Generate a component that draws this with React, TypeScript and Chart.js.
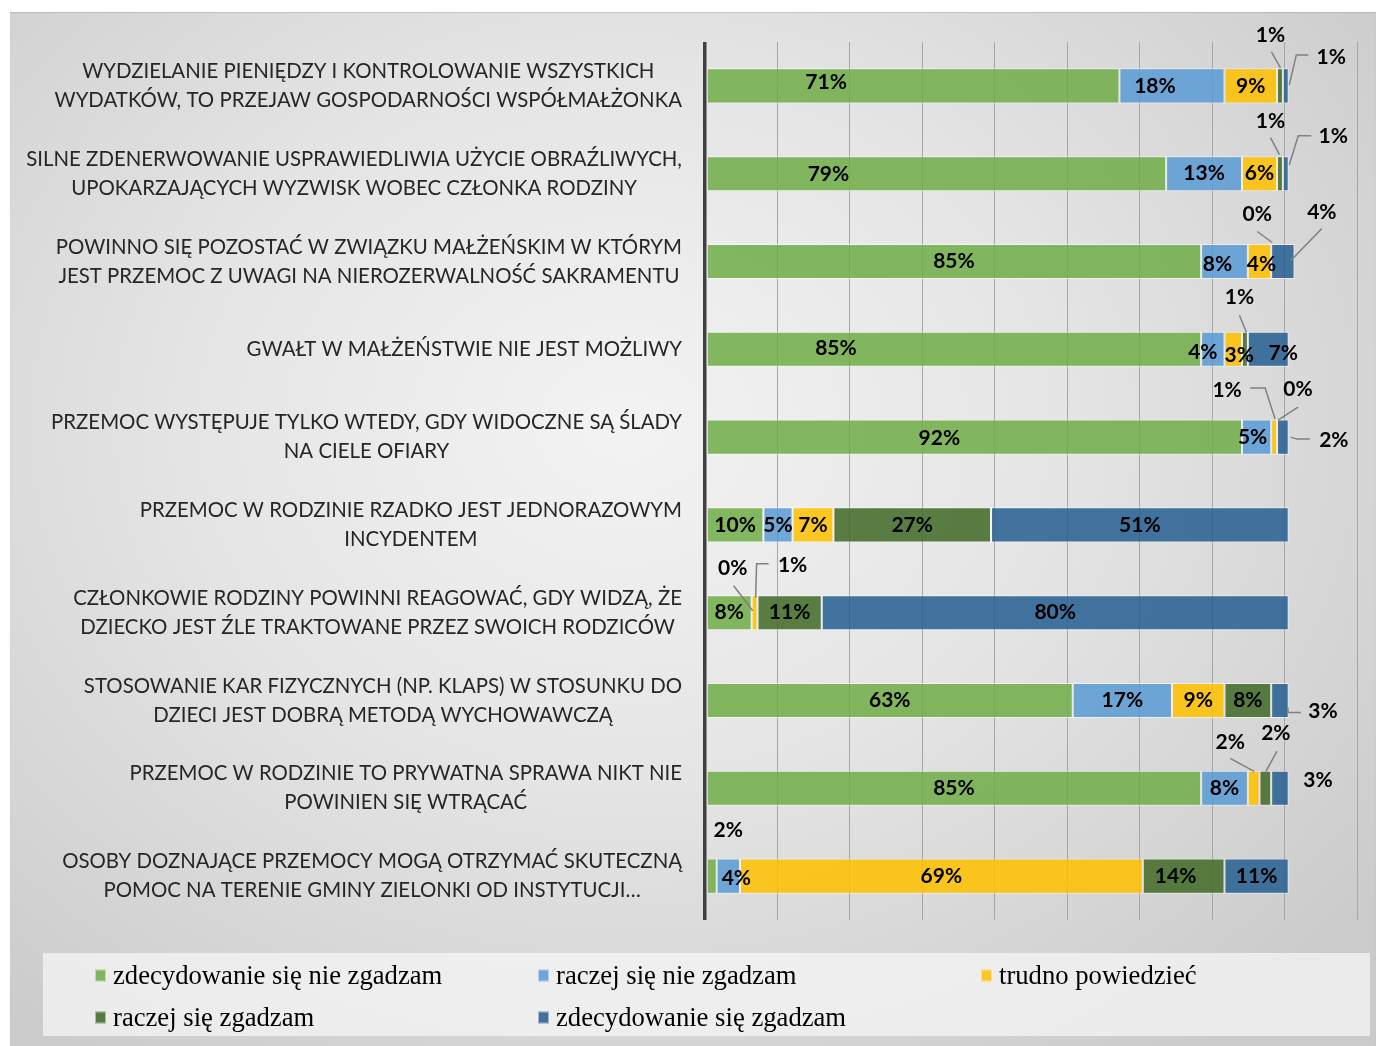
import React, { useEffect, useRef } from 'react';
import { Chart, registerables } from 'chart.js';

Chart.register(...registerables);

const categories: string[][] = [
  ['WYDZIELANIE PIENIĘDZY I KONTROLOWANIE WSZYSTKICH', 'WYDATKÓW, TO PRZEJAW GOSPODARNOŚCI WSPÓŁMAŁŻONKA'],
  ['SILNE ZDENERWOWANIE USPRAWIEDLIWIA UŻYCIE OBRAŹLIWYCH,', 'UPOKARZAJĄCYCH WYZWISK WOBEC CZŁONKA RODZINY'],
  ['POWINNO SIĘ POZOSTAĆ W ZWIĄZKU MAŁŻEŃSKIM W KTÓRYM', 'JEST PRZEMOC Z UWAGI NA NIEROZERWALNOŚĆ SAKRAMENTU'],
  ['GWAŁT W MAŁŻEŃSTWIE NIE JEST MOŻLIWY'],
  ['PRZEMOC WYSTĘPUJE TYLKO WTEDY, GDY WIDOCZNE SĄ ŚLADY', 'NA CIELE OFIARY'],
  ['PRZEMOC W RODZINIE RZADKO JEST JEDNORAZOWYM', 'INCYDENTEM'],
  ['CZŁONKOWIE RODZINY POWINNI REAGOWAĆ, GDY WIDZĄ, ŻE', 'DZIECKO JEST ŹLE TRAKTOWANE PRZEZ SWOICH RODZICÓW'],
  ['STOSOWANIE KAR FIZYCZNYCH (NP. KLAPS) W STOSUNKU DO', 'DZIECI JEST DOBRĄ METODĄ WYCHOWAWCZĄ'],
  ['PRZEMOC W RODZINIE TO PRYWATNA SPRAWA NIKT NIE', 'POWINIEN SIĘ WTRĄCAĆ'],
  ['OSOBY DOZNAJĄCE PRZEMOCY MOGĄ OTRZYMAĆ SKUTECZNĄ', 'POMOC NA TERENIE GMINY ZIELONKI OD INSTYTUCJI…'],
];

const seriesNames = [
  'zdecydowanie się nie zgadzam',
  'raczej się nie zgadzam',
  'trudno powiedzieć',
  'raczej się zgadzam',
  'zdecydowanie się zgadzam',
];

const stronglyDisagree = [71, 79, 85, 85, 92, 10, 8, 63, 85, 2];
const ratherDisagree = [18, 13, 8, 4, 5, 5, 0, 17, 8, 4];
const hardToSay = [9, 6, 4, 3, 1, 7, 1, 9, 2, 69];
const ratherAgree = [1, 1, 0, 1, 0, 27, 11, 8, 2, 14];
const stronglyAgree = [1, 1, 4, 7, 2, 51, 80, 3, 3, 11];

const seriesColors = [
  'rgba(112,173,71,0.86)',
  'rgba(91,155,213,0.86)',
  'rgba(255,192,0,0.86)',
  'rgba(67,108,42,0.88)',
  'rgba(38,94,145,0.86)',
];
const legendColors = ['#7fb55e', '#6fa5d8', '#fbc52a', '#577a43', '#41709d'];

const X_MAX = 111.7;
const GRID_COUNT = 9;

// label placement tweaks: key "row-series" -> offset from segment centre, optional leader line
type Placement = { dx: number; dy: number; line?: number[][] };
const placements: Record<string, Placement> = {
  '0-0': { dx: -87, dy: -4 },
  '0-1': { dx: -17, dy: 0 },
  '0-3': { dx: -9.5, dy: -51, line: [[-8.5, -34], [0.5, -18]] },
  '0-4': { dx: 45.5, dy: -29, line: [[22.5, -31], [10.5, -31], [3.5, -1]] },
  '1-0': { dx: -108, dy: 1 },
  '1-3': { dx: -9.5, dy: -52, line: [[-9.5, -36], [-0.5, -19]] },
  '1-4': { dx: 47.5, dy: -37, line: [[25.5, -38], [12.5, -38], [3.5, -9]] },
  '2-1': { dx: -7, dy: 3 },
  '2-2': { dx: 2, dy: 3 },
  '2-3': { dx: -14, dy: -47, line: [[-14, -30], [1, -19]] },
  '2-4': { dx: 39, dy: -49, line: [[39, -33], [8, -1]] },
  '3-0': { dx: -118, dy: -1 },
  '3-1': { dx: -10, dy: 3 },
  '3-2': { dx: 6, dy: 6 },
  '3-3': { dx: -5.5, dy: -52, line: [[-5.5, -34], [1.5, -17]] },
  '3-4': { dx: 15, dy: 4 },
  '4-0': { dx: -35, dy: 1 },
  '4-1': { dx: -4, dy: 0 },
  '4-2': { dx: -47, dy: -47, line: [[-24, -49], [-9, -49], [1, -18]] },
  '4-3': { dx: 21, dy: -48, line: [[21, -30], [1, -17]] },
  '4-4': { dx: 51, dy: 3, line: [[27, 2], [14, 2], [8, 0]] },
  '6-1': { dx: -19, dy: -44, line: [[-18, -27], [1, -2]] },
  '6-2': { dx: 38, dy: -47, line: [[14, -49], [2, -49], [1, -15]] },
  '7-4': { dx: 43, dy: 11, line: [[21, 12], [8, 12], [8, 7]] },
  '8-2': { dx: -23.5, dy: -46, line: [[-23.5, -30], [0.5, -17]] },
  '8-3': { dx: 10.5, dy: -55, line: [[11.5, -37], [0.5, -17]] },
  '8-4': { dx: 38, dy: -8 },
  '9-0': { dx: 16.5, dy: -46 },
  '9-1': { dx: 8, dy: 2 },
  '9-3': { dx: -8, dy: 0 },
};

const CAT_FONT = '20.4px Lato';
const VAL_FONT = 'bold 21px Lato';

const labelPlugin = {
  id: 'customLabels',
  afterDatasetsDraw(chart: any) {
    const ctx = chart.ctx as CanvasRenderingContext2D;
    ctx.save();
    ctx.font = VAL_FONT;
    ctx.textAlign = 'center';
    ctx.textBaseline = 'middle';
    chart.data.datasets.forEach((ds: any, di: number) => {
      const meta = chart.getDatasetMeta(di);
      meta.data.forEach((bar: any, i: number) => {
        const p = bar.getProps(['x', 'y', 'base'], true);
        const cx = (p.x + p.base) / 2;
        const cy = p.y;
        const pl = placements[`${i}-${di}`] || { dx: 0, dy: 0 };
        if (pl.line) {
          ctx.beginPath();
          ctx.strokeStyle = '#808080';
          ctx.lineWidth = 1.5;
          pl.line.forEach((pt, k) => {
            if (k === 0) ctx.moveTo(cx + pt[0], cy + pt[1]);
            else ctx.lineTo(cx + pt[0], cy + pt[1]);
          });
          ctx.stroke();
        }
        ctx.fillStyle = '#000000';
        ctx.fillText(`${ds.data[i]}%`, cx + pl.dx, cy + pl.dy);
      });
    });
    ctx.restore();
  },
  afterDraw(chart: any) {
    const ctx = chart.ctx as CanvasRenderingContext2D;
    const yScale = chart.scales.y;
    const right = chart.chartArea.left - 23;
    ctx.save();
    ctx.font = CAT_FONT;
    ctx.fillStyle = '#262626';
    ctx.textAlign = 'center';
    ctx.textBaseline = 'middle';
    categories.forEach((lines, i) => {
      const y = yScale.getPixelForValue(i);
      const w = Math.max(...lines.map((l) => ctx.measureText(l).width));
      const cx = right - w / 2;
      lines.forEach((l, j) => {
        ctx.fillText(l, cx, y + (j - (lines.length - 1) / 2) * 29);
      });
    });
    ctx.restore();
  },
};

export default function App() {
  const ref = useRef<HTMLCanvasElement | null>(null);
  useEffect(() => {
    if (!ref.current) return;
    const values = [stronglyDisagree, ratherDisagree, hardToSay, ratherAgree, stronglyAgree];
    const chart = new Chart(ref.current, {
      type: 'bar',
      data: {
        labels: categories.map((c) => c.join(' ')),
        datasets: values.map((v, k) => ({
          label: seriesNames[k],
          data: v,
          backgroundColor: seriesColors[k],
          borderColor: 'rgba(255,255,255,0.55)',
          borderWidth: (c: any) => (c.raw === 0 ? 0 : 1),
          borderSkipped: false,
          barPercentage: 0.4,
          categoryPercentage: 1,
        })),
      },
      options: {
        indexAxis: 'y',
        animation: false,
        responsive: false,
        layout: { padding: { left: 695, top: 30, right: 19, bottom: 126 } },
        plugins: { legend: { display: false }, tooltip: { enabled: false } },
        scales: {
          x: {
            stacked: true,
            min: 0,
            max: X_MAX,
            afterBuildTicks: (scale: any) => {
              scale.ticks = Array.from({ length: GRID_COUNT + 1 }, (_, i) => ({ value: (i * X_MAX) / GRID_COUNT }));
            },
            ticks: { display: false },
            border: { display: false },
            grid: {
              drawTicks: false,
              color: (c: any) => (c.index === 0 ? '#404040' : '#a6a6a6'),
              lineWidth: (c: any) => (c.index === 0 ? 3.5 : 1),
            },
          },
          y: { stacked: true, display: false },
        },
      },
      plugins: [labelPlugin],
    } as any);
    return () => chart.destroy();
  }, []);

  const legendItems = [
    { k: 0, left: 52, top: 22 },
    { k: 1, left: 495, top: 22 },
    { k: 2, left: 938, top: 22 },
    { k: 3, left: 52, top: 64 },
    { k: 4, left: 495, top: 64 },
  ];

  return (
    <div
      style={{
        position: 'fixed',
        left: 10,
        top: 12,
        width: 1366,
        height: 1034,
        background:
          'radial-gradient(ellipse 70% 75% at 45% 40%, #f3f3f3 0%, #e5e5e5 45%, #cbcbcb 100%)',
        boxShadow: 'inset 0 1px 1px rgba(0,0,0,0.12)',
        overflow: 'hidden',
      }}
    >
      <canvas ref={ref} width={1366} height={1034} style={{ display: 'block', position: 'absolute', left: 0, top: 0 }} />
      <div
        style={{
          position: 'absolute',
          left: 33,
          top: 941,
          width: 1327,
          height: 83,
          background: 'rgba(245,245,245,0.75)',
        }}
      >
        {legendItems.map((it) => (
          <div
            key={it.k}
            style={{
              position: 'absolute',
              left: it.left,
              top: it.top,
              transform: 'translateY(-50%)',
              display: 'flex',
              alignItems: 'center',
              fontFamily: '"Liberation Serif", serif',
              fontSize: '26.67px',
              color: '#000',
              whiteSpace: 'nowrap',
            }}
          >
            <span
              style={{
                display: 'inline-block',
                width: 11,
                height: 12,
                background: legendColors[it.k],
                border: '1px solid rgba(255,255,255,0.5)',
                boxSizing: 'border-box',
                marginRight: 7,
              }}
            />
            <span>{seriesNames[it.k]}</span>
          </div>
        ))}
      </div>
    </div>
  );
}
